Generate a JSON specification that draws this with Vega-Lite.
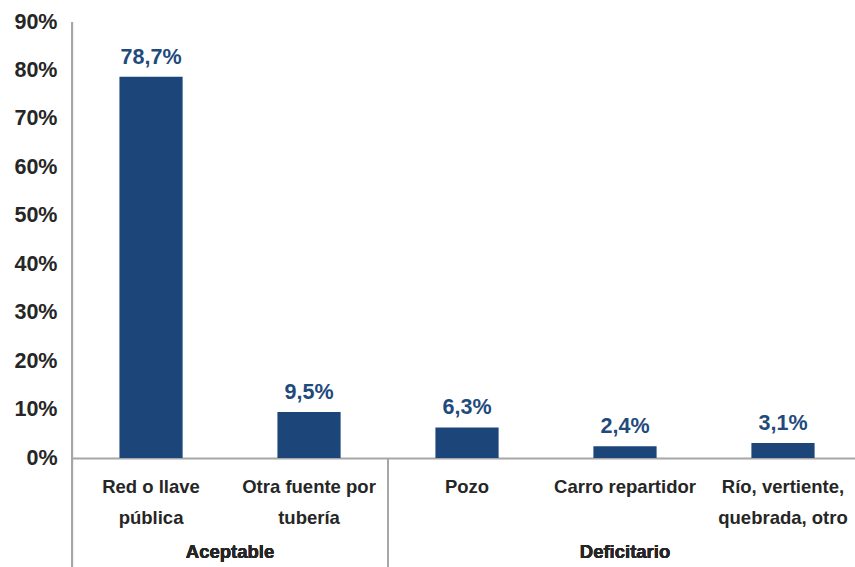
{
  "$schema": "https://vega.github.io/schema/vega-lite/v6.json",
  "autosize": {"type": "none"},
  "padding": {"left": 72, "top": 22, "right": 0, "bottom": 109},
  "width": 783,
  "height": 436,
  "config": {
    "view": {"stroke": null},
    "font": "Liberation Sans",
    "locale": {"number": {"decimal": ",", "thousands": ".", "grouping": [3], "currency": ["", ""]}}
  },
  "data": {
    "values": [
      {"categoria": "Red o llave pública", "grupo": "Aceptable", "valor": 0.787},
      {"categoria": "Otra fuente por tubería", "grupo": "Aceptable", "valor": 0.095},
      {"categoria": "Pozo", "grupo": "Deficitario", "valor": 0.063},
      {"categoria": "Carro repartidor", "grupo": "Deficitario", "valor": 0.024},
      {"categoria": "Río, vertiente, quebrada, otro", "grupo": "Deficitario", "valor": 0.031}
    ]
  },
  "encoding": {
    "x": {
      "field": "categoria",
      "type": "nominal",
      "sort": null,
      "scale": {"paddingInner": 0.6, "paddingOuter": 0.278, "align": 0.54},
      "axis": {
        "title": null,
        "labelAngle": 0,
        "ticks": false,
        "domainColor": "#a6a6a6",
        "domainWidth": 2,
        "labelFontSize": 18.5,
        "labelFontWeight": "bold",
        "labelColor": "#262626",
        "labelPadding": 19,
        "labelLineHeight": 31,
        "labelLimit": 300,
        "labelExpr": "datum.label == 'Red o llave pública' ? ['Red o llave', 'pública'] : datum.label == 'Otra fuente por tubería' ? ['Otra fuente por', 'tubería'] : datum.label == 'Río, vertiente, quebrada, otro' ? ['Río, vertiente,', 'quebrada, otro'] : datum.label"
      }
    }
  },
  "layer": [
    {
      "mark": {"type": "bar", "color": "#1c4679"},
      "encoding": {
        "y": {
          "field": "valor",
          "type": "quantitative",
          "scale": {"domain": [0, 0.9], "nice": false},
          "axis": {
            "title": null,
            "values": [0, 0.1, 0.2, 0.3, 0.4, 0.5, 0.6, 0.7, 0.8, 0.9],
            "format": ".0%",
            "domain": false,
            "ticks": false,
            "grid": false,
            "labelFontSize": 21.5,
            "labelFontWeight": "bold",
            "labelColor": "#262626",
            "labelPadding": 15
          }
        }
      }
    },
    {
      "mark": {"type": "text", "fontSize": 21.5, "fontWeight": "bold", "color": "#1f4a7c", "dy": -13, "baseline": "alphabetic"},
      "encoding": {
        "y": {"field": "valor", "type": "quantitative"},
        "text": {"field": "valor", "type": "quantitative", "format": ".1%"}
      }
    },
    {
      "mark": {"type": "rule", "color": "#a6a6a6", "strokeWidth": 2, "clip": false},
      "encoding": {
        "x": {"datum": "Red o llave pública", "bandPosition": -0.75},
        "y": {"datum": 0.9},
        "y2": {"datum": -0.225}
      }
    },
    {
      "mark": {"type": "rule", "color": "#a6a6a6", "strokeWidth": 2, "clip": false},
      "encoding": {
        "x": {"datum": "Pozo", "bandPosition": -0.75},
        "y": {"datum": 0},
        "y2": {"datum": -0.225}
      }
    },
    {
      "mark": {"type": "text", "fontSize": 18.5, "fontWeight": "bold", "color": "#262626", "baseline": "middle", "clip": false},
      "encoding": {
        "x": {"datum": "Otra fuente por tubería", "bandPosition": -0.75},
        "y": {"datum": -0.194},
        "text": {"value": "Aceptable"}
      }
    },
    {
      "mark": {"type": "text", "fontSize": 18.5, "fontWeight": "bold", "color": "#262626", "baseline": "middle", "clip": false},
      "encoding": {
        "x": {"datum": "Carro repartidor", "bandPosition": 0.5},
        "y": {"datum": -0.194},
        "text": {"value": "Deficitario"}
      }
    }
  ]
}
